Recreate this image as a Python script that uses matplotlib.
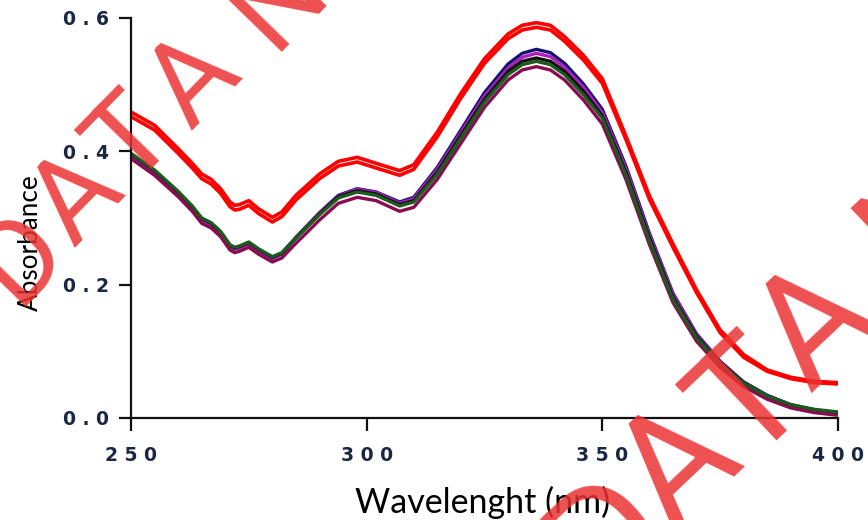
import matplotlib
matplotlib.use("Agg")
import matplotlib.pyplot as plt

# Absorption spectra, absorbance vs wavelength (nm)
wavelength = [250, 255, 260, 263, 265, 267, 269, 271, 272, 273, 275, 277, 280, 282, 285,
              290, 294, 298, 302, 307, 310, 315, 320, 325, 330, 333, 336, 339, 342, 346,
              350, 355, 360, 365, 370, 375, 380, 385, 390, 395, 400]

red_a = [.459, .439, .404, .382, .366, .358, .344, .324, .319, .320, .326, .314, .301, .309, .334,
         .366, .385, .391, .382, .371, .380, .429, .487, .539, .576, .589, .593, .589, .572, .544,
         .509, .423, .333, .261, .192, .132, .095, .072, .061, .055, .053]
red_b = [.452, .432, .397, .375, .359, .351, .337, .317, .312, .313, .319, .307, .294, .302, .327,
         .359, .378, .384, .375, .364, .373, .422, .480, .532, .569, .582, .586, .582, .565, .537,
         .502, .418, .328, .256, .188, .128, .091, .070, .059, .053, .051]
navy = [.395, .370, .338, .316, .298, .291, .278, .258, .254, .256, .262, .252, .240, .247, .271,
        .308, .334, .344, .339, .324, .331, .376, .432, .488, .531, .547, .553, .548, .532, .501,
        .463, .378, .277, .187, .126, .085, .054, .034, .020, .012, .008]
magenta = [.394, .369, .337, .315, .297, .290, .277, .257, .253, .255, .261, .251, .239, .246, .270,
           .307, .333, .343, .338, .322, .329, .373, .428, .483, .525, .541, .547, .542, .526, .496,
           .458, .374, .274, .185, .124, .083, .052, .032, .018, .011, .007]
black = [.396, .371, .339, .317, .299, .292, .279, .259, .255, .257, .263, .253, .241, .247, .270,
         .306, .332, .341, .336, .320, .326, .369, .424, .478, .520, .535, .540, .535, .520, .490,
         .453, .369, .270, .181, .122, .082, .052, .032, .019, .012, .008]
green = [.397, .372, .340, .318, .300, .293, .280, .260, .256, .258, .264, .254, .242, .248, .270,
         .305, .330, .339, .334, .318, .324, .366, .420, .474, .515, .530, .535, .530, .515, .485,
         .450, .365, .266, .178, .120, .081, .052, .033, .020, .013, .009]
maroon = [.389, .364, .332, .310, .292, .285, .272, .252, .248, .250, .256, .246, .234, .240, .262,
          .297, .322, .331, .326, .310, .316, .358, .412, .466, .507, .522, .527, .522, .507, .477,
          .441, .358, .260, .173, .115, .076, .047, .028, .015, .008, .004]

x_ticks = [250, 300, 350, 400]
x_tick_labels = ["250", "300", "350", "400"]
y_ticks = [0.0, 0.2, 0.4, 0.6]
y_tick_labels = ["0.0", "0.2", "0.4", "0.6"]

x_label = "Wavelenght (nm)"
y_label = "Absorbance"
watermark_letters = ["D", "A", "T", "A", "N"]

W, H = 868, 520
fig = plt.figure(figsize=(W / 100, H / 100), dpi=100)
ax = fig.add_axes([0.1509, 0.1962, 0.8145, 0.7692])

line_kw = dict(solid_joinstyle="round", solid_capstyle="butt")
ax.plot(wavelength, navy, color="#14146e", lw=2.4, **line_kw)
ax.plot(wavelength, magenta, color="#b01cc0", lw=2.4, **line_kw)
ax.plot(wavelength, black, color="#101010", lw=2.4, **line_kw)
ax.plot(wavelength, maroon, color="#8a0c50", lw=2.4, **line_kw)
ax.plot(wavelength, green, color="#1d5a1d", lw=2.4, **line_kw)
ax.plot(wavelength, red_a, color="#ff0000", lw=2.6, **line_kw)
ax.plot(wavelength, red_b, color="#ff0000", lw=2.6, **line_kw)

ax.set_xlim(250, 400)
ax.set_ylim(0, 0.6)
for side in ("top", "right"):
    ax.spines[side].set_visible(False)
for side in ("left", "bottom"):
    ax.spines[side].set_linewidth(1.6)
    ax.spines[side].set_color("#111111")

tick_font = dict(family="DejaVu Sans", weight="bold", size=13.5, color="#1a2744")
ax.set_xticks(x_ticks)
ax.set_xticklabels([" ".join(t) for t in x_tick_labels], **tick_font)
ax.set_yticks(y_ticks)
ax.set_yticklabels([" ".join(t) for t in y_tick_labels], **tick_font)
ax.tick_params(axis="both", direction="out", length=9, width=1.6, color="#111111")
ax.tick_params(axis="x", pad=11)
ax.tick_params(axis="y", pad=7)

fig.text(483 / W, 1 - 502 / H, x_label, family="Lato", size=24.5,
         ha="center", va="center", color="black")
fig.text(30 / W, 1 - 243 / H, y_label, family="Lato", size=18.8,
         ha="center", va="center", rotation=90, color="black")

# Diagonal watermark, one glyph at a time (baseline-centre positions in pixels)
wm_kw = dict(family="Roboto", color="#eb3232", alpha=0.85,
             ha="center", va="baseline", rotation_mode="anchor", zorder=10)
upper_band = [(43, 279), (100, 221), (155, 163), (217, 104), (302, 22)]
lower_band = [(638, 567), (710, 498), (781, 433), (847, 358), (954, 251)]
for letter, (px, py) in zip(watermark_letters, upper_band):
    fig.text(px / W, 1 - py / H, letter, size=84.5, rotation=45.7, **wm_kw)
for letter, (px, py) in zip(watermark_letters, lower_band):
    fig.text(px / W, 1 - py / H, letter, size=112, rotation=43.5, **wm_kw)

fig.savefig("out.png", dpi=100)
